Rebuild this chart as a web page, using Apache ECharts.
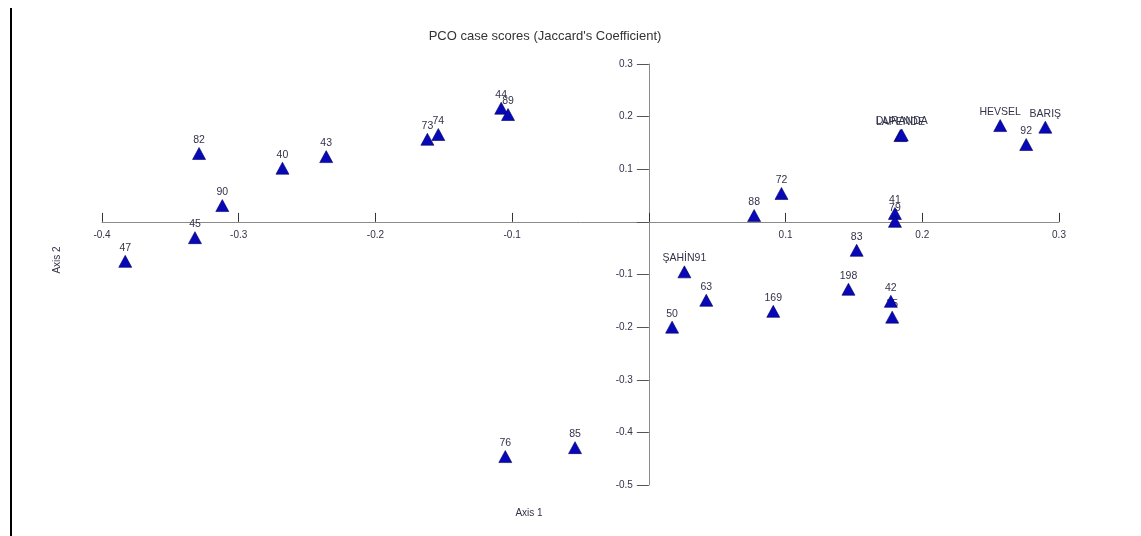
<!DOCTYPE html>
<html>
<head>
<meta charset="utf-8">
<title>PCO case scores</title>
<script src="https://cdn.jsdelivr.net/npm/echarts@6/dist/echarts.min.js"></script>
<style>
  html, body { margin: 0; padding: 0; background: #fff; }
  #chart { width: 1141px; height: 536px; }
</style>
</head>
<body>
<div id="chart"></div>
<script>
// case names and scores (axis 1, axis 2)
var caseNames = ['47', '45', '90', '82', '40', '43', '73', '74', '44', '89',
  '76', '85', 'ŞAHİN91', '63', '50', '169', '88', '72', '83', '198',
  '42', '35', '41', '79', 'LAPENDE', 'DURANDA', 'HEVSEL', 'BARIŞ', '92'];
var axis1 = [-0.383, -0.332, -0.312, -0.329, -0.268, -0.236, -0.162, -0.154, -0.108, -0.103,
  -0.105, -0.054, 0.026, 0.042, 0.017, 0.091, 0.077, 0.097, 0.152, 0.146,
  0.177, 0.178, 0.180, 0.180, 0.184, 0.185, 0.257, 0.290, 0.276];
var axis2 = [-0.075, -0.030, 0.031, 0.130, 0.102, 0.124, 0.157, 0.166, 0.216, 0.204,
  -0.446, -0.429, -0.095, -0.149, -0.200, -0.170, 0.012, 0.054, -0.054, -0.128,
  -0.151, -0.181, 0.016, 0.001, 0.164, 0.165, 0.183, 0.180, 0.147];

var points = [];
for (var i = 0; i < caseNames.length; i++) {
  points.push({ name: caseNames[i], value: [axis1[i], axis2[i]] });
}

var xMin = -0.4, xMax = 0.3, yMin = -0.5, yMax = 0.3;
var gridW = 957, gridH = 421;
// the axes cross at zero: shift each one from the grid edge to the origin
var xOffset = -(0 - yMin) / (yMax - yMin) * gridH;
var yOffset = -(0 - xMin) / (xMax - xMin) * gridW;

var chart = echarts.init(document.getElementById('chart'));
var labelColor = '#33334a';
var fmt = function (v) { return Math.abs(v) < 1e-9 ? '' : +v.toFixed(1) + ''; };

chart.setOption({
  animation: false,
  backgroundColor: '#fff',
  title: {
    text: "PCO case scores (Jaccard's Coefficient)",
    left: 540, top: 25, textAlign: 'center',
    textStyle: { fontFamily: 'Liberation Sans', fontSize: 13, fontWeight: 'normal', color: '#333' }
  },
  grid: { left: 102, top: 64, width: gridW, height: gridH },
  xAxis: {
    type: 'value', min: xMin, max: xMax, interval: 0.1,
    position: 'bottom', offset: xOffset,
    axisLine: { onZero: false, lineStyle: { color: '#8a8a8a', width: 1 } },
    axisTick: { inside: true, length: 9, lineStyle: { color: '#333' } },
    axisLabel: { margin: 8, color: labelColor, fontFamily: 'Liberation Sans', fontSize: 10, formatter: fmt },
    splitLine: { show: false }
  },
  yAxis: {
    type: 'value', min: yMin, max: yMax, interval: 0.1,
    position: 'left', offset: yOffset,
    axisLine: { onZero: false, lineStyle: { color: '#8a8a8a', width: 1 } },
    axisTick: { length: 12, lineStyle: { color: '#555' } },
    axisLabel: { margin: 16, color: labelColor, fontFamily: 'Liberation Sans', fontSize: 10, formatter: fmt },
    splitLine: { show: false }
  },
  graphic: [
    { type: 'line', shape: { x1: 11, y1: 8, x2: 11, y2: 536 },
      style: { stroke: '#000', lineWidth: 2 } },
    { type: 'text', x: 529, y: 513,
      style: { text: 'Axis 1', fill: labelColor, font: '10px "Liberation Sans"',
               textAlign: 'center', textVerticalAlign: 'middle' } },
    { type: 'text', x: 57, y: 260, rotation: Math.PI / 2,
      style: { text: 'Axis 2', fill: labelColor, font: '10px "Liberation Sans"',
               textAlign: 'center', textVerticalAlign: 'middle' } }
  ],
  series: [
    {
      // labels only, drawn under the markers
      type: 'scatter', z: 2,
      data: points,
      symbolSize: 12,
      itemStyle: { color: 'rgba(0,0,0,0)', opacity: 1 },
      label: {
        show: true, position: 'top', distance: 2,
        formatter: '{b}', color: labelColor,
        fontFamily: 'Liberation Sans', fontSize: 10.5
      }
    },
    {
      type: 'scatter', z: 3,
      data: points,
      symbol: 'triangle',
      symbolSize: [13, 12],
      itemStyle: { color: '#0808b8', borderColor: '#00005a', borderWidth: 0.6, opacity: 1 }
    }
  ]
});
</script>
</body>
</html>
